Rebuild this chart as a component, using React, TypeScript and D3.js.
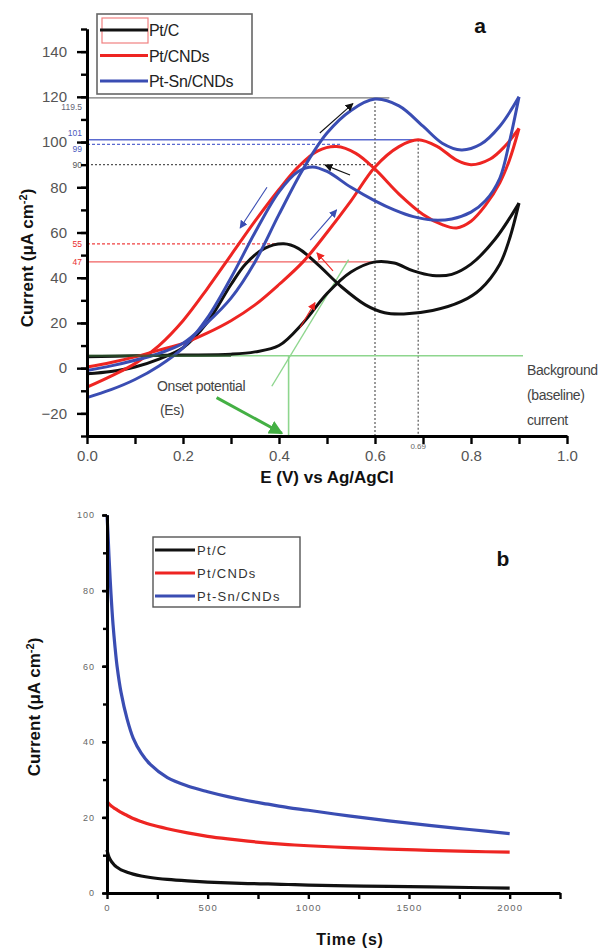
import React, { useRef, useEffect } from 'react';
import * as d3 from 'd3';

const FONT = 'Arial, "Liberation Sans", sans-serif';

// ---- panel a: cyclic voltammograms, [E (V), I (uA cm-2)] ----
const ptcFwd = [[0, 5], [0.1, 5.5], [0.2, 5.8], [0.3, 6.2], [0.35, 7.2], [0.4, 10], [0.45, 20], [0.5, 33], [0.55, 42.5], [0.6, 47], [0.64, 46.5], [0.68, 43], [0.72, 41], [0.76, 41.5], [0.8, 46], [0.85, 57], [0.9, 73]];
const ptcRev = [[0.9, 73], [0.88, 57], [0.86, 46], [0.82, 35], [0.78, 29.5], [0.72, 25.5], [0.66, 24], [0.62, 24.5], [0.58, 28], [0.53, 36], [0.48, 46], [0.44, 53], [0.41, 55], [0.37, 53], [0.33, 46], [0.3, 37], [0.25, 20], [0.2, 9], [0.15, 4], [0.1, 0.5], [0.05, -1.5], [0, -2.5]];
const pcnFwd = [[0, 0.5], [0.05, 2.5], [0.1, 5], [0.15, 8], [0.2, 11], [0.25, 15.5], [0.3, 21], [0.35, 28], [0.4, 37], [0.45, 47], [0.5, 60], [0.55, 74], [0.6, 89], [0.65, 98], [0.69, 101], [0.73, 98], [0.77, 92], [0.8, 90], [0.84, 92.5], [0.87, 98], [0.9, 106]];
const pcnRev = [[0.9, 106], [0.88, 92], [0.86, 82], [0.83, 72], [0.8, 65], [0.77, 62], [0.74, 63.5], [0.7, 68], [0.65, 77], [0.6, 88], [0.56, 95], [0.52, 98], [0.48, 96], [0.44, 89], [0.4, 79], [0.35, 65], [0.3, 50], [0.25, 35], [0.2, 21], [0.15, 10], [0.1, 2], [0.05, -3.5], [0, -8.4]];
const psnFwd = [[0, -1], [0.05, 1], [0.1, 3.5], [0.15, 6.5], [0.2, 11], [0.25, 20], [0.3, 31], [0.35, 47], [0.4, 68], [0.45, 88], [0.5, 104], [0.55, 114], [0.6, 119], [0.65, 116], [0.7, 107], [0.74, 99.5], [0.78, 96.5], [0.82, 99], [0.86, 107], [0.9, 120]];
const psnRev = [[0.9, 120], [0.88, 100], [0.86, 84], [0.83, 74], [0.8, 69], [0.76, 66], [0.72, 65.5], [0.68, 67], [0.64, 70], [0.6, 74], [0.55, 80], [0.5, 87], [0.47, 89], [0.44, 87], [0.4, 78], [0.35, 60], [0.3, 40], [0.25, 22], [0.2, 9], [0.15, 1], [0.1, -5], [0.05, -9.5], [0, -13]];

const cvNames = ['Pt/C', 'Pt/CNDs', 'Pt-Sn/CNDs'];
const colors = ['#111111', '#ee2522', '#3a4db3'];

// marked values: [current, E where the guide ends, style, label]
const peakGuides = [
  [119.5, 0.63, 'gray', '119.5'],
  [101, 0.7, 'blueSolid', '101'],
  [99, 0.53, 'blueDot', '99'],
  [90, 0.6, 'grayDot', '90'],
  [55, 0.41, 'redDot', '55'],
  [47, 0.625, 'redSolid', '47'],
];
const peakPotentials = [[0.6, 119.5], [0.69, 101]];
const onsetE = 0.42;
const baselineI = 5.5;
// small scan-direction arrows [x1, y1, x2, y2, colour index]
const scanArrows = [
  [0.485, 104, 0.554, 117, 0],
  [0.548, 85.4, 0.496, 89.8, 0],
  [0.375, 80, 0.319, 62, 2],
  [0.465, 56.6, 0.52, 70, 2],
  [0.444, 18, 0.475, 29, 1],
  [0.5125, 43, 0.479, 51, 1],
];

// ---- panel b: chronoamperometry ----
const caTime = [0, 5, 10, 20, 30, 40, 50, 70, 100, 130, 170, 215, 300, 400, 500, 600, 700, 800, 900, 1000, 1200, 1400, 1600, 1800, 2000];
const caPtC = [11.4, 10.3, 9.5, 8.5, 7.8, 7.2, 6.8, 6.1, 5.5, 5, 4.5, 4.1, 3.6, 3.2, 2.9, 2.7, 2.5, 2.4, 2.25, 2.1, 1.9, 1.75, 1.6, 1.45, 1.3];
const caPtCnd = [24.2, 23.9, 23.6, 23.1, 22.7, 22.3, 22, 21.3, 20.5, 19.7, 18.9, 18.1, 17, 15.9, 15, 14.3, 13.7, 13.2, 12.8, 12.5, 12, 11.6, 11.3, 11, 10.8];
const caPtSn = [100, 95, 89, 79, 71, 65, 60, 53, 46, 41, 37, 34, 30.5, 28.3, 26.8, 25.5, 24.4, 23.5, 22.6, 21.9, 20.4, 19.1, 17.9, 16.8, 15.7];
const caNames = ['Pt/C', 'Pt/CNDs', 'Pt-Sn/CNDs'];

const styleAxis = (g, width, labelColor, fontSize, spacing = 0) => {
  g.select('.domain').attr('stroke', '#000').attr('stroke-width', width);
  g.selectAll('.tick line').attr('stroke', '#000').attr('stroke-width', width * 0.8);
  g.selectAll('.tick text')
    .attr('fill', labelColor)
    .attr('font-size', fontSize)
    .attr('font-family', FONT)
    .attr('letter-spacing', spacing);
};

const yLabel = (svg, cx, cy, size) => {
  const t = svg.append('text')
    .attr('transform', `translate(${cx},${cy}) rotate(-90)`)
    .attr('text-anchor', 'middle')
    .attr('font-family', FONT)
    .attr('font-weight', 'bold')
    .attr('font-size', size)
    .attr('fill', '#111');
  t.append('tspan').text('Current (\u03bcA cm');
  t.append('tspan').attr('baseline-shift', 'super').attr('font-size', size * 0.65).text('-2');
  t.append('tspan').text(')');
};

const App = () => {
  const svgRef = useRef(null);

  useEffect(() => {
    const svg = d3.select(svgRef.current);
    svg.selectAll('*').remove();

    const defs = svg.append('defs');
    const marker = (id, color, size) => {
      defs.append('marker')
        .attr('id', id)
        .attr('viewBox', '0 0 10 10')
        .attr('refX', 9).attr('refY', 5)
        .attr('markerWidth', size).attr('markerHeight', size)
        .attr('markerUnits', 'userSpaceOnUse')
        .attr('orient', 'auto')
        .append('path').attr('d', 'M0,0 L10,5 L0,10 Z').attr('fill', color);
    };
    colors.forEach((c, i) => marker(`arr${i}`, c, 8));
    marker('arrGreen', '#44b044', 14);

    // ================= panel a =================
    const x = d3.scaleLinear().domain([0, 1]).range([87, 567]);
    const y = d3.scaleLinear().domain([-30, 150]).range([436, 29]);
    const line = d3.line().x(d => x(d[0])).y(d => y(d[1])).curve(d3.curveCatmullRom.alpha(0.5));

    // guide lines
    const guideStyle = {
      gray: ['#777', 1.2, null], blueSolid: ['#5a6ad0', 1.4, null], blueDot: ['#5a6ad0', 1.2, '3,2'],
      grayDot: ['#555', 1.2, '2,2'], redDot: ['#f04040', 1.2, '3,2'], redSolid: ['#f06060', 1.2, null],
    };
    const labelColor = { gray: '#667', blueSolid: '#4a5ac0', blueDot: '#4a5ac0', grayDot: '#555', redDot: '#e83030', redSolid: '#e83030' };
    const labelDy = { gray: 12, blueSolid: -4, blueDot: 8, grayDot: 3, redDot: 3, redSolid: 3 };
    peakGuides.forEach(([v, e, s, lab]) => {
      const [c, w, dash] = guideStyle[s];
      svg.append('line').attr('x1', x(0)).attr('x2', x(e)).attr('y1', y(v)).attr('y2', y(v))
        .attr('stroke', c).attr('stroke-width', w).attr('stroke-dasharray', dash);
      svg.append('text').attr('x', x(0) - 5).attr('y', y(v) + labelDy[s])
        .attr('text-anchor', 'end').attr('font-family', FONT).attr('font-size', 8.5)
        .attr('fill', labelColor[s]).text(lab);
    });
    peakPotentials.forEach(([e, v]) => {
      svg.append('line').attr('x1', x(e)).attr('x2', x(e)).attr('y1', y(v)).attr('y2', y(-30))
        .attr('stroke', '#666').attr('stroke-width', 1.3).attr('stroke-dasharray', '2,2');
    });
    svg.append('text').attr('x', x(0.69)).attr('y', 449).attr('text-anchor', 'middle')
      .attr('font-family', FONT).attr('font-size', 8).attr('fill', '#666').text('0.69');

    // baseline, tangent and onset
    svg.append('line').attr('x1', x(0)).attr('x2', 523).attr('y1', y(baselineI)).attr('y2', y(baselineI))
      .attr('stroke', '#8ed68e').attr('stroke-width', 1.6);
    svg.append('line').attr('x1', x(0.385)).attr('y1', y(-8)).attr('x2', x(0.545)).attr('y2', y(48))
      .attr('stroke', '#8ed68e').attr('stroke-width', 1.4);
    svg.append('line').attr('x1', x(onsetE)).attr('x2', x(onsetE)).attr('y1', y(baselineI)).attr('y2', y(-30))
      .attr('stroke', '#8ed68e').attr('stroke-width', 1.6);

    // curves
    [[ptcFwd, ptcRev], [pcnFwd, pcnRev], [psnFwd, psnRev]].forEach((branches, i) => {
      branches.forEach(b => {
        svg.append('path').attr('d', line(b)).attr('fill', 'none')
          .attr('stroke', colors[i]).attr('stroke-width', 3).attr('stroke-linejoin', 'round');
      });
    });
    // darker baseline segment over the black forward scan
    svg.append('line').attr('x1', x(0)).attr('x2', x(0.3)).attr('y1', y(baselineI)).attr('y2', y(baselineI))
      .attr('stroke', '#2e5a2e').attr('stroke-width', 2.5).attr('opacity', 0.7);

    scanArrows.forEach(([x1, y1, x2, y2, c]) => {
      svg.append('line').attr('x1', x(x1)).attr('y1', y(y1)).attr('x2', x(x2)).attr('y2', y(y2))
        .attr('stroke', colors[c]).attr('stroke-width', 1.1).attr('marker-end', `url(#arr${c})`);
    });

    svg.append('line').attr('x1', x(0.27)).attr('y1', y(-13)).attr('x2', x(0.406)).attr('y2', y(-28.8))
      .attr('stroke', '#44b044').attr('stroke-width', 3).attr('marker-end', 'url(#arrGreen)');

    const note = (tx, ty, s, anchor = 'start') => svg.append('text').attr('x', tx).attr('y', ty)
      .attr('text-anchor', anchor).attr('font-family', FONT).attr('font-size', 14)
      .attr('fill', '#444').attr('letter-spacing', -0.4).text(s);
    note(157, 391, 'Onset potential');
    note(160, 415, '(Es)');
    note(527, 375, 'Background');
    note(527, 400, '(baseline)');
    note(527, 425, 'current');

    // axes
    const gYm = svg.append('g').attr('transform', `translate(${x(0)},0)`)
      .call(d3.axisLeft(y).tickValues(d3.range(-30, 151, 10)).tickSize(6).tickSizeOuter(0).tickFormat(() => ''));
    styleAxis(gYm, 3, '#555', 15);
    const gY = svg.append('g').attr('transform', `translate(${x(0)},0)`)
      .call(d3.axisLeft(y).tickValues(d3.range(-20, 141, 20)).tickSize(10).tickSizeOuter(0).tickPadding(10));
    styleAxis(gY, 3, '#555', 15);
    const gX = svg.append('g').attr('transform', `translate(0,${y(-30)})`)
      .call(d3.axisBottom(x).tickValues(d3.range(0, 1.01, 0.1)).tickSize(8).tickSizeOuter(0).tickPadding(6)
        .tickFormat((d, i) => (i % 2 === 0 ? d3.format('.1f')(d) : '')));
    styleAxis(gX, 3, '#555', 15);

    svg.append('text').attr('x', 327).attr('y', 483).attr('text-anchor', 'middle')
      .attr('font-family', FONT).attr('font-weight', 'bold').attr('font-size', 17).attr('fill', '#111')
      .text('E (V) vs Ag/AgCl');
    yLabel(svg, 33, 258, 17);

    // legend a
    svg.append('rect').attr('x', 97).attr('y', 14).attr('width', 155).attr('height', 80)
      .attr('fill', '#fff').attr('stroke', '#666').attr('stroke-width', 1.6);
    svg.append('rect').attr('x', 102).attr('y', 18).attr('width', 46).attr('height', 25)
      .attr('fill', 'none').attr('stroke', '#f08080').attr('stroke-width', 1.2);
    cvNames.forEach((n, i) => {
      const ly = 30 + i * 25.5;
      svg.append('line').attr('x1', 100).attr('x2', 148).attr('y1', ly).attr('y2', ly)
        .attr('stroke', colors[i]).attr('stroke-width', 3);
      svg.append('text').attr('x', 149).attr('y', ly + 6).attr('font-family', FONT).attr('font-size', 16)
        .attr('fill', '#222').attr('letter-spacing', -0.3).text(n);
    });
    svg.append('text').attr('x', 480).attr('y', 33).attr('text-anchor', 'middle').attr('font-family', FONT)
      .attr('font-weight', 'bold').attr('font-size', 21).attr('fill', '#111').text('a');

    // ================= panel b =================
    const tx = d3.scaleLinear().domain([0, 2250]).range([107, 560]);
    const ty = d3.scaleLinear().domain([0, 100]).range([893, 515]);
    const caLine = d3.line().x((d, i) => tx(caTime[i])).y(d => ty(d)).curve(d3.curveCatmullRom.alpha(0.5));
    [caPtC, caPtCnd, caPtSn].forEach((s, i) => {
      svg.append('path').attr('d', caLine(s)).attr('fill', 'none')
        .attr('stroke', colors[i]).attr('stroke-width', 3.2);
    });

    const bYm = svg.append('g').attr('transform', `translate(${tx(0)},0)`)
      .call(d3.axisLeft(ty).tickValues(d3.range(0, 101, 10)).tickSize(4).tickSizeOuter(0).tickFormat(() => ''));
    styleAxis(bYm, 3, '#666', 9);
    const bY = svg.append('g').attr('transform', `translate(${tx(0)},0)`)
      .call(d3.axisLeft(ty).tickValues(d3.range(0, 101, 20)).tickSize(5).tickSizeOuter(0).tickPadding(7));
    styleAxis(bY, 3, '#666', 9, 1);
    const bX = svg.append('g').attr('transform', `translate(0,${ty(0)})`)
      .call(d3.axisBottom(tx).tickValues(d3.range(0, 2251, 250)).tickSize(6).tickSizeOuter(0).tickPadding(5)
        .tickFormat(d => (d % 500 === 0 && d <= 2000 ? String(d) : '')));
    styleAxis(bX, 3, '#666', 9.5, 1.2);

    svg.append('text').attr('x', 350).attr('y', 945).attr('text-anchor', 'middle')
      .attr('font-family', FONT).attr('font-weight', 'bold').attr('font-size', 16).attr('fill', '#111')
      .attr('letter-spacing', 0.8).text('Time (s)');
    yLabel(svg, 40, 707, 17);

    // legend b
    svg.append('rect').attr('x', 153).attr('y', 537).attr('width', 147).attr('height', 70)
      .attr('fill', '#fff').attr('stroke', '#555').attr('stroke-width', 1.4);
    caNames.forEach((n, i) => {
      const ly = 550 + i * 23;
      svg.append('line').attr('x1', 155).attr('x2', 195).attr('y1', ly).attr('y2', ly)
        .attr('stroke', colors[i]).attr('stroke-width', 3);
      svg.append('text').attr('x', 197).attr('y', ly + 5).attr('font-family', FONT).attr('font-size', 13)
        .attr('fill', '#333').attr('letter-spacing', 1.3).text(n);
    });
    svg.append('text').attr('x', 503).attr('y', 566).attr('text-anchor', 'middle').attr('font-family', FONT)
      .attr('font-weight', 'bold').attr('font-size', 21).attr('fill', '#111').text('b');
  }, []);

  return (
    <svg ref={svgRef} width={614} height={950}
      style={{ position: 'absolute', left: 0, top: 0, background: '#fff' }} />
  );
};

export default App;
